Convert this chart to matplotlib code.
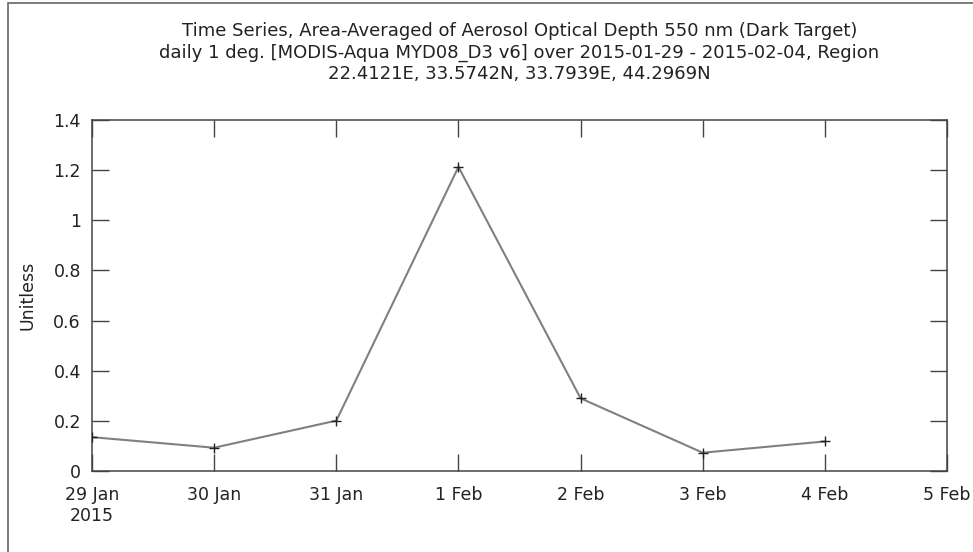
import matplotlib
matplotlib.use("Agg")
import matplotlib.pyplot as plt
import matplotlib.patches as patches
import pandas as pd

# Werte
dates = ["2015-01-29", "2015-01-30", "2015-01-31", "2015-02-01",
         "2015-02-02", "2015-02-03", "2015-02-04"]
aod = [0.135, 0.093, 0.201, 1.213, 0.29, 0.073, 0.118]

tick_dates = ["2015-01-29", "2015-01-30", "2015-01-31", "2015-02-01",
              "2015-02-02", "2015-02-03", "2015-02-04", "2015-02-05"]
tick_labels = ["29 Jan\n2015", "30 Jan", "31 Jan", "1 Feb",
               "2 Feb", "3 Feb", "4 Feb", "5 Feb"]
y_ticks = [0, 0.2, 0.4, 0.6, 0.8, 1, 1.2, 1.4]
y_labels = ["0", "0.2", "0.4", "0.6", "0.8", "1", "1.2", "1.4"]

title = ("Time Series, Area-Averaged of Aerosol Optical Depth 550 nm (Dark Target)\n"
         "daily 1 deg. [MODIS-Aqua MYD08_D3 v6] over 2015-01-29 - 2015-02-04, Region\n"
         "22.4121E, 33.5742N, 33.7939E, 44.2969N")

plt.rcParams['font.family'] = ['DejaVu Sans']
x = pd.to_datetime(dates)
xt = pd.to_datetime(tick_dates)

fig = plt.figure(figsize=(9.73, 5.52), dpi=100)
ax = fig.add_axes([0.0946, 0.1467, 0.8787, 0.6359])

ax.plot(x, aod, color="#808080", linewidth=1.5, zorder=2)
ax.plot(x, aod, linestyle="none", marker="+", color="#222222",
        markersize=7, markeredgewidth=1.0, zorder=3)

ax.set_xlim(xt[0], xt[-1])
ax.set_ylim(0, 1.4)
ax.set_xticks(xt)
ax.set_xticklabels(tick_labels, linespacing=1.25)
ax.set_yticks(y_ticks)
ax.set_yticklabels(y_labels)

ax.tick_params(direction="in", length=12.5, width=1, color="#444444",
               top=True, right=True, labelsize=12.5, labelcolor="#222222")
ax.tick_params(axis="y", pad=8)
ax.tick_params(axis="x", pad=10.5)
for s in ax.spines.values():
    s.set_color("#444444")
    s.set_linewidth(1.1)

ax.set_ylabel("Unitless", fontsize=12.5, color="#222222", labelpad=12)
ax.set_title(title, fontsize=13, color="#222222", pad=29.5, linespacing=1.25)

# Rahmen um das ganze Bild (rechts/unten abgeschnitten)
W, H = 973, 552
rect = patches.Rectangle((8 / W, -0.1), 1.2, (H - 3) / H + 0.1,
                         transform=fig.transFigure, fill=False,
                         edgecolor="#666666", linewidth=1.2)
fig.add_artist(rect)

fig.savefig("out.png", dpi=100)
